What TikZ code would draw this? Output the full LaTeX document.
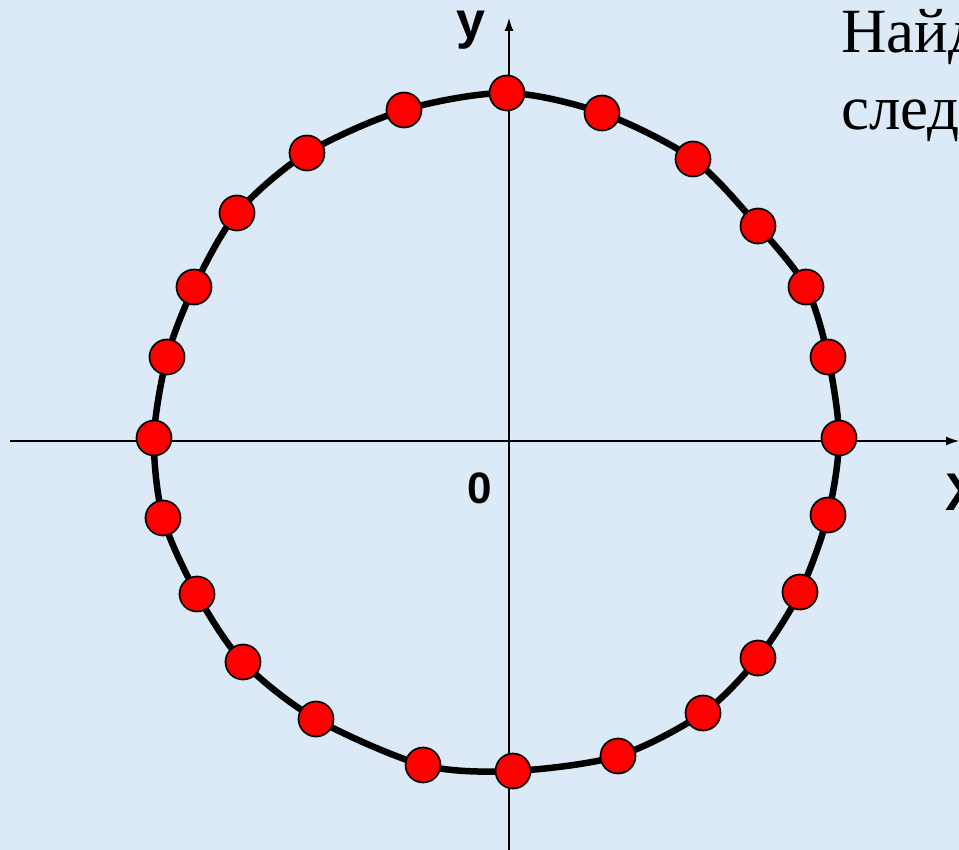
\documentclass[tikz,border=0pt]{standalone}
\usepackage{fontspec}
\setmainfont{Liberation Serif}
\newfontfamily\axisfont{Liberation Sans}
\definecolor{slidebg}{RGB}{220, 233, 246}
\definecolor{dotred}{RGB}{255, 0, 0}
\usetikzlibrary{arrows.meta}

\tikzset{
  axis/.style={line width=1.3pt, black},
  curve/.style={line width=6.5pt, black},
  dot/.style={circle, draw=black, line width=1.7pt, fill=dotred, minimum size=35pt, inner sep=0pt},
  axlabel/.style={font=\axisfont\bfseries, inner sep=0pt},
  task/.style={font=\fontsize{63}{70}\selectfont, inner sep=0pt, anchor=base west}
}

\begin{document}
\begin{tikzpicture}[x=1pt, y=-1pt]
        % Slide background
        \useasboundingbox (0,0) rectangle (959,850);
        \fill[slidebg] (0,0) rectangle (959,850);

        % Axes
        \coordinate (xl) at (10,441);
        \coordinate (xr) at (959,441);
        \coordinate (yb) at (509,850);
        \coordinate (yt) at (509,18);
        \draw[axis, -{Latex[length=13pt, width=9pt]}] (xl) -- (xr);
        \draw[axis, -{Latex[length=13pt, width=9pt]}] (yb) -- (yt);

        % Axis labels
        \node[axlabel, font=\axisfont\bfseries\fontsize{52}{58}\selectfont, anchor=base] (ylab) at (471,39) {y};
        \node[axlabel, font=\axisfont\bfseries\fontsize{53}{60}\selectfont, anchor=base west] (xlab) at (945,510) {X};
        \node[axlabel, font=\axisfont\bfseries\fontsize{44}{50}\selectfont, anchor=base] (zero) at (480,503) {0};

        % Points on the circle
        \foreach \px/\py [count=\i] in {507/93, 602/113, 693/159, 758/226, 806/287, 828/357,
                                         839/438, 828/515, 800/592, 758/658, 703/713, 618/756,
                                         513/771, 423/765, 316/719, 243/662, 197/594, 163/518,
                                         154/438, 167/357, 194/287, 237/213, 307/153, 404/110}
            \coordinate (p\i) at (\px,\py);

        % Circle through the points
        \draw[curve] plot[smooth cycle] coordinates {(p1) (p2) (p3) (p4) (p5) (p6) (p7) (p8)
            (p9) (p10) (p11) (p12) (p13) (p14) (p15) (p16) (p17) (p18) (p19) (p20) (p21)
            (p22) (p23) (p24)};

        \foreach \i in {1,...,24}
            \node[dot] (d\i) at (p\i) {};

        % Task text
        \node[task] (task1) at (841,53) {Найд};
        \node[task] (task2) at (841,130) {след};
    \end{tikzpicture}
\end{document}
